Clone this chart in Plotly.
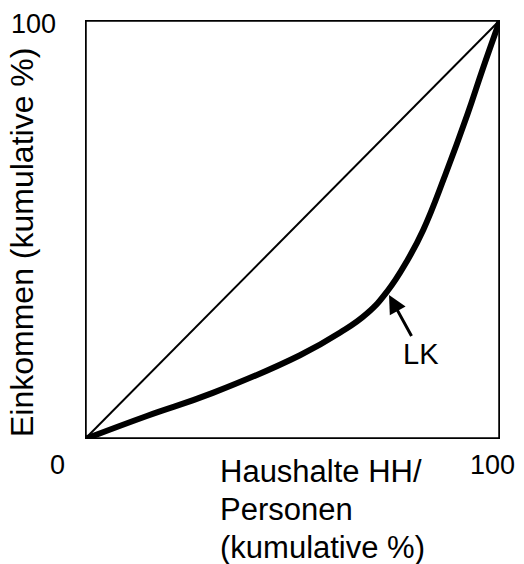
import plotly.graph_objects as go

# Lorenz curve (cumulative % households vs cumulative % income)
lk_x = [0, 14.9, 30.8, 51.8, 61.5, 68.0, 72.8, 77.6, 81.5, 86.8, 92.1, 95.9, 100]
lk_y = [0, 5.5, 11.0, 20.0, 25.4, 30.0, 35.2, 42.5, 49.9, 63.0, 77.3, 88.5, 100]
diag_x = [0, 100]
diag_y = [0, 100]
tick_labels = ["0", "100", "100"]
x_title_lines = ["Haushalte HH/", "Personen", "(kumulative %)"]
y_title = "Einkommen (kumulative %)"
curve_label = "LK"
arrow_at = 6  # index of the curve point the LK arrow points to

FONT = "Arial, Liberation Sans, sans-serif"

fig = go.Figure()
fig.add_trace(go.Scatter(x=diag_x, y=diag_y, mode="lines",
                         line=dict(color="black", width=2), hoverinfo="skip"))
fig.add_trace(go.Scatter(x=lk_x, y=lk_y, mode="lines",
                         line=dict(color="black", width=6, shape="spline", smoothing=1.3),
                         hoverinfo="skip"))

fig.add_shape(type="rect", xref="x", yref="y", x0=0, y0=0, x1=100, y1=100,
              line=dict(color="black", width=3.5))

font = dict(family=FONT, size=27, color="black")
# tick-like labels
fig.add_annotation(x=0, y=0, xref="x", yref="y", text=tick_labels[0], showarrow=False,
                   xanchor="center", yanchor="middle", xshift=-28, yshift=-26, font=font)
fig.add_annotation(x=0, y=100, xref="x", yref="y", text=tick_labels[1], showarrow=False,
                   xanchor="center", yanchor="middle", xshift=-52, yshift=-4, font=font)
fig.add_annotation(x=100, y=0, xref="x", yref="y", text=tick_labels[2], showarrow=False,
                   xanchor="center", yanchor="middle", xshift=-8, yshift=-26, font=font)

# x axis title, one annotation per line (line spacing ~38 px)
for i, line in enumerate(x_title_lines):
    fig.add_annotation(x=(218 - 85) / 415, y=0, xref="paper", yref="paper", text=line,
                       showarrow=False, xanchor="left", yanchor="middle", align="left",
                       yshift=-32 - 38 * i, font=dict(family=FONT, size=31, color="black"))
# y axis title
fig.add_annotation(x=0, y=0, xref="paper", yref="paper", text=y_title, textangle=-90,
                   showarrow=False, xanchor="center", yanchor="middle", xshift=-63,
                   yshift=196, font=dict(family=FONT, size=32, color="black"))

# LK arrow label
fig.add_annotation(x=lk_x[arrow_at], y=lk_y[arrow_at], xref="x", yref="y", text=curve_label,
                   showarrow=True, ax=34, ay=62, standoff=4, arrowhead=2, arrowsize=1.2,
                   arrowwidth=3, arrowcolor="black",
                   font=dict(family=FONT, size=29, color="black"))

fig.update_layout(
    width=524, height=564,
    margin=dict(l=85, r=24, t=20, b=125),
    paper_bgcolor="white", plot_bgcolor="white",
    showlegend=False,
    xaxis=dict(range=[0, 100], visible=False, fixedrange=True),
    yaxis=dict(range=[0, 100], visible=False, fixedrange=True),
)

fig.write_html("out.html", config={"displayModeBar": False})
# remove the default page margin so the 524x564 figure fills the window exactly
with open("out.html", encoding="utf-8") as f:
    html = f.read()
html = html.replace("<head>", "<head><style>html,body{margin:0;padding:0;overflow:hidden}</style>", 1)
with open("out.html", "w", encoding="utf-8") as f:
    f.write(html)
